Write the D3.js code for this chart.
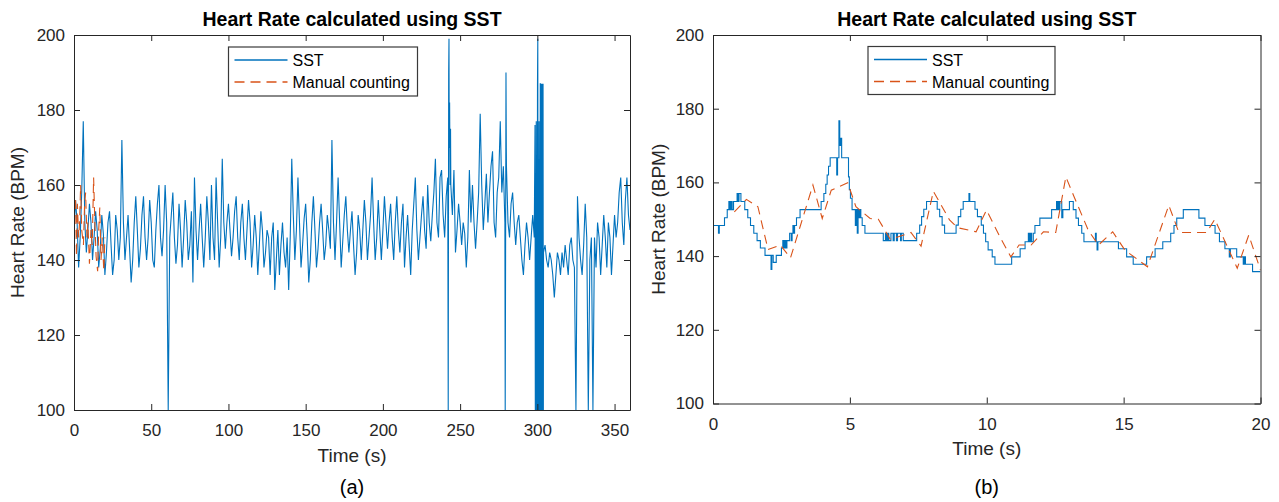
<!DOCTYPE html>
<html><head><meta charset="utf-8">
<script src="https://cdn.jsdelivr.net/npm/d3@7"></script>
<style>body{margin:0;background:#fff}svg{display:block}text{font-family:"Liberation Sans",Arial,sans-serif}</style>
</head><body><svg id="c" width="1279" height="502"></svg>
<script>
// ---------- DATA ----------
const yTicks = [100,120,140,160,180,200];
const leftXTicks = [0,50,100,150,200,250,300,350];
const rightXTicks = [0,5,10,15,20];
const seriesNames = ["SST","Manual counting"];
const panelLabels = ["(a)","(b)"];
const titleText = "Heart Rate calculated using SST";

// Panel (a): SST heart rate sampled each second, 0..360 s
const leftSST = [
148,156,150,138,146,158,177,150,142,148,
155,150,140,146,153,148,138,143,152,147,
136,142,150,153,144,136,140,152,148,140,
146,172,150,140,146,152,143,134,140,150,
157,148,138,143,152,157,146,140,146,156,
150,140,138,148,155,160,146,141,148,160,
150,100,146,152,158,146,139,144,155,148,
138,146,156,150,140,144,153,134,162,148,
140,148,155,146,138,146,157,150,140,160,
146,140,162,150,138,146,167,150,143,150,
155,148,141,146,153,157,146,140,150,155,
146,140,148,156,150,138,144,152,146,136,
144,153,148,138,142,148,146,136,146,150,
132,140,148,136,144,150,142,138,146,132,
146,167,152,140,148,162,150,138,144,151,
155,146,134,140,150,157,148,138,143,150,
155,148,140,144,152,148,143,172,150,140,
150,162,150,138,145,152,157,148,142,148,
153,144,136,142,152,148,140,148,156,150,
140,146,152,162,150,140,146,156,148,140,
148,157,150,143,150,155,146,140,150,157,
148,142,150,155,138,146,152,144,136,148,
155,162,148,140,146,152,157,148,143,160,
150,145,152,158,167,150,146,162,164,152,
146,157,162,170,160,152,164,142,148,155,
150,144,150,147,138,146,164,150,160,150,
143,150,158,179,160,148,155,163,150,158,
165,169,150,146,158,162,177,158,165,150,
165,150,146,155,158,150,144,150,152,146,
140,136,144,150,146,140,146,152,146,100,
150,100,187,100,142,144,140,138,142,140,
136,130,136,142,140,136,142,138,144,140,
136,144,146,140,138,100,157,146,140,136,
144,155,146,100,140,146,100,146,138,150,
146,136,144,152,146,138,150,146,136,144,
152,146,150,158,162,150,144,156,162,152,
148];
// Panel (a): extra SST samples where the estimate jumps fast
const leftBursts = [
[242.3,100],[242.6,190],[242.8,199],[242.95,170],[243.2,182],[243.5,160],[243.8,175],
[279.2,100],[279.5,150],[279.7,190],[279.9,170],
[298.5,176],[298.7,100],[298.9,150],[299.1,100],[299.3,177],[299.5,100],[299.7,160],[299.9,100],
[300.1,187],[300.3,199],[300.5,100],[300.7,150],[300.9,100],[301.1,177],[301.3,100],[301.5,145],
[301.7,100],[301.9,187],[302.1,100],[302.3,187],[302.5,100],[302.7,187],[302.9,100],[303.1,187],
[303.3,100],[303.5,145],[303.7,187],[303.9,100]];
// Panel (a): manual counting over the first 20 s
const leftManual = [[0,152],[1,156],[1.6,141],[2.2,155],[3,146],[3.6,150],[4.3,160],[5,148],[6.1,144],
[6.8,154],[7.5,158],[8.4,146],[9,150],[10,139],[11,148],[11.8,144],[12.7,162],[13.5,150],[14.3,141],
[15.3,137],[16,148],[16.7,154],[17.5,140],[18.3,146],[19.3,137],[20,146]];

// Panel (b): SST staircase [time s, BPM] (value holds until next time)
const rightSST = [[0,148.3],[0.20,146.2],[0.23,148.3],[0.42,150.4],[0.52,152.6],[0.58,154.8],[0.62,152.6],
[0.66,154.8],[0.70,152.6],[0.75,154.8],[0.88,157.0],[0.92,154.8],[0.95,157.0],[1.02,154.8],[1.16,152.6],
[1.27,150.4],[1.37,148.3],[1.49,146.2],[1.61,144.2],[1.73,142.2],[1.90,140.2],[2.12,136.4],[2.15,140.2],
[2.20,138.3],[2.31,140.2],[2.50,142.2],[2.55,144.2],[2.58,142.2],[2.62,144.2],[2.66,142.2],[2.70,144.2],
[2.80,146.2],[2.86,144.2],[2.89,146.2],[2.92,148.3],[2.95,146.2],[2.98,148.3],[3.05,150.4],[3.18,152.6],
[3.95,154.8],[4.05,157.0],[4.12,159.5],[4.17,162.0],[4.22,164.4],[4.28,166.7],[4.52,162.0],[4.55,166.7],
[4.60,176.7],[4.63,170.0],[4.66,172.0],[4.70,166.7],[4.95,161.5],[4.98,158.0],[5.02,155.7],[5.08,152.6],
[5.20,148.3],[5.23,152.6],[5.27,146.2],[5.30,152.6],[5.33,150.4],[5.36,152.6],[5.40,150.4],[5.45,148.3],
[5.55,146.2],[6.22,144.2],[6.30,146.2],[6.34,144.2],[6.38,146.2],[6.42,144.2],[6.50,146.2],[6.58,144.2],
[6.62,146.2],[6.70,144.2],[6.74,146.2],[6.85,144.2],[6.88,146.2],[6.95,144.2],[7.44,146.2],[7.55,148.4],
[7.62,150.7],[7.70,152.7],[7.80,154.8],[8.19,152.7],[8.28,150.7],[8.37,148.4],[8.46,146.2],[8.88,148.4],
[8.96,150.7],[9.05,152.7],[9.14,154.8],[9.35,157.0],[9.38,154.8],[9.57,152.7],[9.66,150.7],[9.80,148.4],
[9.88,146.2],[9.96,143.9],[10.05,141.7],[10.20,139.8],[10.30,137.8],[10.91,139.8],[11.22,142.0],[11.40,143.9],
[11.52,146.2],[11.56,143.9],[11.60,146.2],[11.64,143.9],[11.70,146.2],[11.76,148.3],[11.94,150.3],[12.37,152.6],
[12.55,154.8],[12.58,152.6],[12.61,154.8],[12.64,152.6],[12.67,154.8],[12.74,150.4],[12.78,152.6],[13.02,154.8],
[13.16,152.6],[13.26,150.3],[13.35,148.3],[13.47,146.2],[13.55,143.9],[13.97,146.2],[14.00,143.9],[14.03,141.7],
[14.06,143.9],[14.81,142.0],[15.11,139.8],[15.35,137.8],[15.84,139.8],[16.15,142.0],[16.43,143.9],[16.72,146.2],
[16.84,148.3],[16.94,150.3],[17.18,152.6],[17.75,150.3],[17.97,148.3],[18.34,146.2],[18.50,143.9],[18.70,142.0],
[18.86,139.8],[18.90,142.0],[19.13,139.8],[19.37,137.8],[19.41,139.8],[19.45,137.8],[19.71,135.8],[20,135.8]];
// Panel (b): manual counting
const rightManual = [[0.78,152],[1.22,155.4],[1.64,153.4],[2.01,141.8],[2.46,143],[2.83,139.5],[3.65,159.3],
[3.99,150.2],[4.32,157.9],[4.92,159.9],[5.22,153.4],[5.74,150.2],[6.04,150],[6.48,144.5],[7.23,146.4],
[7.6,142.7],[8.05,157.6],[8.64,149.8],[8.94,147.7],[9.61,146.6],[9.99,152.5],[10.51,144.8],[10.88,139.8],
[11.18,143],[11.62,143],[12.07,146.6],[12.52,146.4],[12.89,161.5],[13.19,156.1],[13.71,147],[14.08,143],
[14.6,146.6],[15.05,141.6],[15.87,137.1],[16.65,153.8],[17.02,146.4],[18.03,146.4],[18.33,150],[19.15,136.7],
[19.57,145.7],[20,136.2]];

// ---------- DRAW ----------
const svg = d3.select("#c");
const BLUE = "#0072BD", ORANGE = "#D95319", AX = "#262626";

function panel(cfg){
  const x = d3.scaleLinear().domain(cfg.xDomain).range([cfg.x0, cfg.x1]);
  const y = d3.scaleLinear().domain([100,200]).range([cfg.yb, cfg.yt]);
  const g = svg.append("g");
  const cid = "clip" + cfg.id;
  svg.append("clipPath").attr("id", cid).append("rect")
    .attr("x", cfg.x0).attr("y", cfg.yt).attr("width", cfg.x1-cfg.x0).attr("height", cfg.yb-cfg.yt);

  const lines = g.append("g").attr("clip-path", `url(#${cid})`);
  lines.append("path").datum(cfg.sst)
    .attr("fill","none").attr("stroke",BLUE).attr("stroke-width",1.1)
    .attr("d", d3.line().x(d=>x(d[0])).y(d=>y(d[1])).curve(cfg.step ? d3.curveStepAfter : d3.curveLinear));
  lines.append("path").datum(cfg.manual)
    .attr("fill","none").attr("stroke",ORANGE).attr("stroke-width",1.1).attr("stroke-dasharray","9,6")
    .attr("d", d3.line().x(d=>x(d[0])).y(d=>y(d[1])));

  // axes with inward ticks on all four sides
  const styleAxis = sel => {
    sel.selectAll("path.domain").attr("stroke",AX).attr("stroke-width",1);
    sel.selectAll(".tick line").attr("stroke",AX).attr("stroke-width",1);
    sel.selectAll("text").attr("fill",AX).style("font-size","17px").style("font-family",'"Liberation Sans",Arial,sans-serif');
  };
  g.append("g").attr("transform",`translate(0,${cfg.yb})`)
    .call(d3.axisBottom(x).tickValues(cfg.xTicks).tickSizeInner(-6).tickSizeOuter(0).tickPadding(14)).call(styleAxis);
  g.append("g").attr("transform",`translate(0,${cfg.yt})`)
    .call(d3.axisTop(x).tickValues(cfg.xTicks).tickSizeInner(-6).tickSizeOuter(0).tickFormat("")).call(styleAxis);
  g.append("g").attr("transform",`translate(${cfg.x0},0)`)
    .call(d3.axisLeft(y).tickValues(yTicks).tickSizeInner(-6).tickSizeOuter(0).tickPadding(9)).call(styleAxis);
  g.append("g").attr("transform",`translate(${cfg.x1},0)`)
    .call(d3.axisRight(y).tickValues(yTicks).tickSizeInner(-6).tickSizeOuter(0).tickFormat("")).call(styleAxis);

  const cx = (cfg.x0 + cfg.x1)/2;
  g.append("text").attr("x",cx).attr("y",26).attr("text-anchor","middle")
    .style("font-weight","bold").style("font-size","19.5px").attr("fill","#000").text(titleText);
  g.append("text").attr("x",cx).attr("y",cfg.xlabY).attr("text-anchor","middle")
    .style("font-size","19px").attr("fill",AX).text("Time (s)");
  g.append("text").attr("transform",`translate(${cfg.ylabX},${(cfg.yt+cfg.yb)/2}) rotate(-90)`)
    .attr("text-anchor","middle").style("font-size","19px").attr("fill",AX).text("Heart Rate (BPM)");
  g.append("text").attr("x",cx).attr("y",494).attr("text-anchor","middle")
    .style("font-size","20px").attr("fill","#000").text(cfg.label);

  // legend
  const L = cfg.legend;
  const lg = g.append("g");
  lg.append("rect").attr("x",L.x).attr("y",L.y).attr("width",L.w).attr("height",L.h)
    .attr("fill","#fff").attr("stroke","#3a3a3a").attr("stroke-width",1.2);
  [[BLUE,"none"],[ORANGE,"10,6"]].forEach((s,i)=>{
    const ly = L.y + 13 + i*22;
    lg.append("path").attr("d",`M${L.x+6},${ly}H${L.x+59}`)
      .attr("fill","none").attr("stroke",s[0]).attr("stroke-width",1.3).attr("stroke-dasharray",s[1]);
    lg.append("text").attr("x",L.x+64).attr("y",ly+6).style("font-size","16px").attr("fill","#000").text(seriesNames[i]);
  });
}

const leftPts = leftSST.map((v,i)=>[i,v]).concat(leftBursts).sort((a,b)=>a[0]-b[0]);

panel({id:"a", xDomain:[0,360], x0:74, x1:630, yt:35, yb:410, xTicks:leftXTicks,
  sst:leftPts, manual:leftManual, step:false, xlabY:462, ylabX:24, label:panelLabels[0],
  legend:{x:228.5,y:47,w:189,h:49}});
panel({id:"b", xDomain:[0,20], x0:713, x1:1260.5, yt:35, yb:403.5, xTicks:rightXTicks,
  sst:rightSST, manual:rightManual, step:true, xlabY:455, ylabX:665, label:panelLabels[1],
  legend:{x:868,y:46.5,w:187,h:48}});
</script></body></html>
